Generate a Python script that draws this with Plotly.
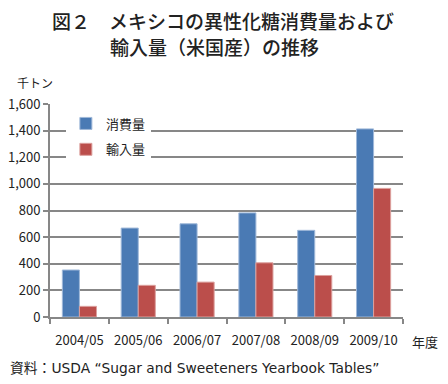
import plotly.graph_objects as go

categories = ["2004/05", "2005/06", "2006/07", "2007/08", "2008/09", "2009/10"]
consumption = [353, 668, 700, 782, 651, 1413]
imports = [80, 238, 262, 407, 312, 966]
y_ticks = [0, 200, 400, 600, 800, 1000, 1200, 1400, 1600]
y_tick_labels = ["0", "200", "400", "600", "800", "1,000", "1,200", "1,400", "1,600"]

font = "Noto Sans CJK JP"
fig = go.Figure()
fig.add_trace(go.Bar(x=categories, y=consumption, name="消費量", legendgroup="a",
                     marker=dict(color="#4a7ab4", line=dict(color="#9fb8d9", width=1))))
fig.add_trace(go.Bar(x=categories, y=imports, name="輸入量", legendgroup="b",
                     marker=dict(color="#bb4e4b", line=dict(color="#dca09e", width=1))))

fig.update_layout(
    width=440, height=376,
    margin=dict(l=42, r=45, t=96, b=67, autoexpand=False),
    paper_bgcolor="white", plot_bgcolor="white",
    font=dict(family=font, size=12, color="#222"),
    barmode="group", bargap=0.42, bargroupgap=0,
    showlegend=True,
    legend=dict(x=0.045, y=0.979, xanchor="left", yanchor="top",
                bgcolor="white", font=dict(size=13, family=font),
                itemwidth=30, tracegroupgap=6),
    xaxis=dict(showline=True, linecolor="#878787", linewidth=2, automargin=False,
               ticks="outside", ticklen=5, tickcolor="#878787", tickwidth=2,
               tickson="boundaries", tickfont=dict(size=13, family=font),
               ticklabelstandoff=10, showgrid=False),
    yaxis=dict(range=[0, 1600], tickvals=y_ticks, ticktext=y_tick_labels, automargin=False,
               showline=True, linecolor="#878787", linewidth=2,
               ticks="outside", ticklen=5, tickcolor="#878787", tickwidth=2,
               showgrid=True, gridcolor="#878787", gridwidth=2,
               tickfont=dict(size=13, family=font), zeroline=False),
)

title_font = dict(size=19, family=font, color="#222", weight=500)
fig.add_annotation(text="図２　メキシコの異性化糖消費量および",
                   xref="paper", yref="paper", x=0.4915, y=1.394, xanchor="center", yanchor="middle",
                   showarrow=False, font=title_font)
fig.add_annotation(text="輸入量（米国産）の推移",
                   xref="paper", yref="paper", x=0.465, y=1.268, xanchor="center", yanchor="middle",
                   showarrow=False, font=title_font)
fig.add_annotation(text="千トン", xref="paper", yref="paper", x=-0.099, y=1.103,
                   xanchor="left", yanchor="middle", showarrow=False,
                   font=dict(size=12, family=font))
fig.add_annotation(text="年度", xref="paper", yref="paper", x=1.105, y=-0.117,
                   xanchor="right", yanchor="middle", showarrow=False,
                   font=dict(size=13, family=font))
fig.add_annotation(text="資料：USDA “Sugar and Sweeteners Yearbook Tables”",
                   xref="paper", yref="paper", x=-0.119, y=-0.239,
                   xanchor="left", yanchor="middle", showarrow=False,
                   font=dict(size=13.8, family="DejaVu Sans, Noto Sans CJK JP"))

fig.write_html("out.html")
